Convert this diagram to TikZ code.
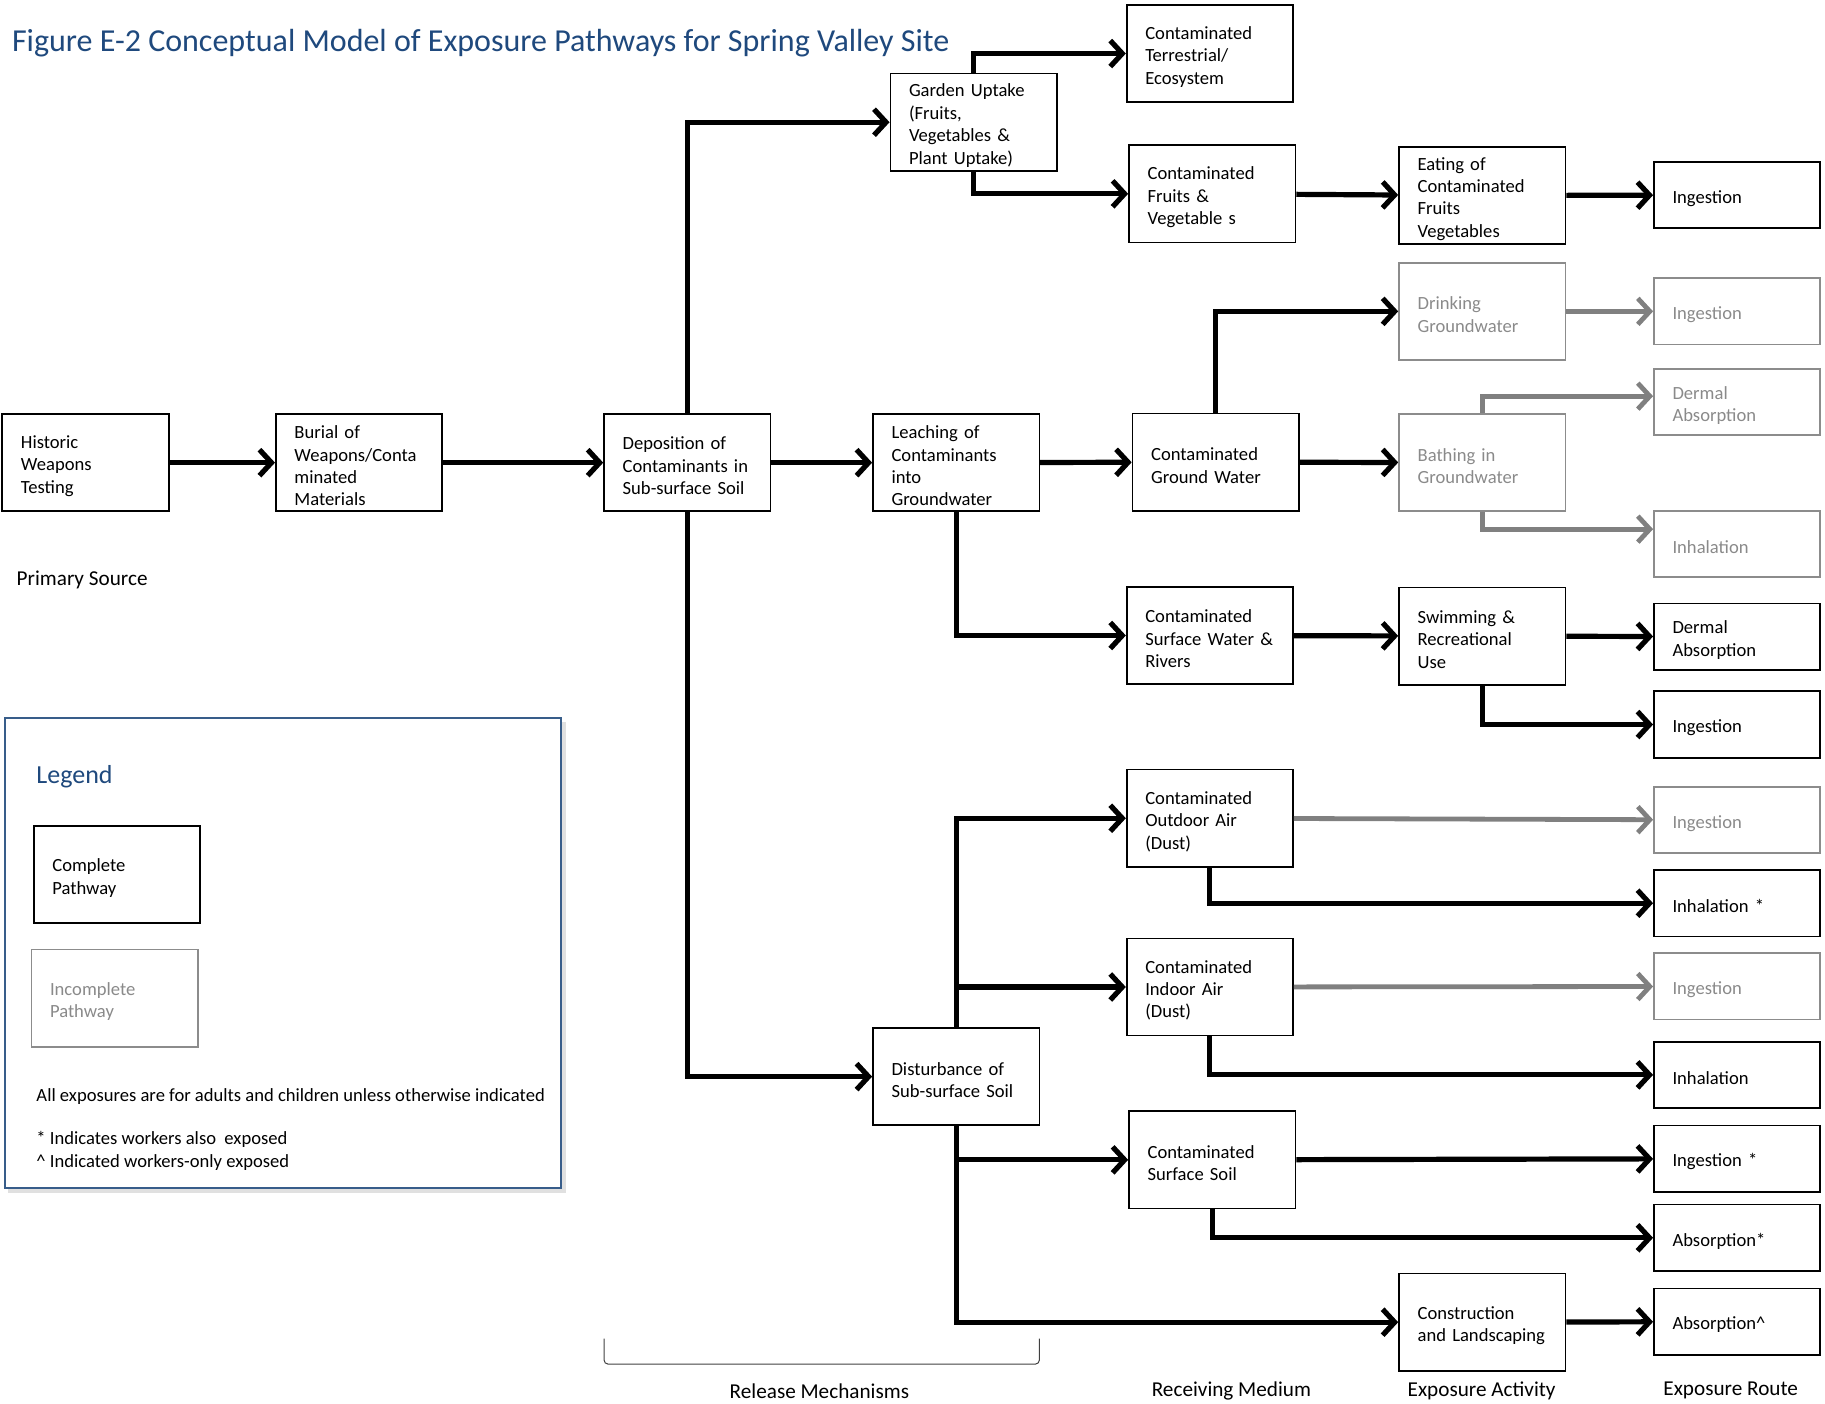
\documentclass[tikz,border=0pt]{standalone}
\usepackage{fontspec}
\setmainfont{Carlito}
\usetikzlibrary{positioning,arrows.meta}

\definecolor{titleblue}{HTML}{1F497D}
\definecolor{legendline}{HTML}{385D8A}
\definecolor{incgrey}{HTML}{8C8C8C}
\definecolor{incgreytext}{HTML}{8A8A8A}
\definecolor{arrgrey}{HTML}{808080}

\newcommand{\boxfont}{\fontsize{9.3}{11.2}\selectfont}
\newcommand{\capfont}{\fontsize{10.6}{12}\selectfont}

\tikzset{
  box/.style={draw, line width=0.85pt, minimum width=83.2pt, minimum height=48.6pt,
    text width=64.6pt, inner xsep=9.3pt, inner ysep=0pt, align=left, font=\boxfont,
    execute at begin node={\rule{0pt}{9.8pt}}},
  greybox/.style={box, draw=incgrey, text=incgreytext},
  route/.style={box, minimum height=33.2pt},
  greyroute/.style={greybox, minimum height=33.2pt},
  arr/.style={line width=2.6pt, -{Straight Barb[length=6pt,width=13pt]}},
  greyarr/.style={arr, draw=arrgrey, line width=2.4pt},
  caption/.style={font=\capfont, inner sep=0pt},
}

\begin{document}
\begin{tikzpicture}[x=0.58195pt, y=-0.58195pt]
  \useasboundingbox (0,0) rectangle (1568,1206);

  % title
  \node[anchor=west, inner sep=0pt, text=titleblue, font=\fontsize{16}{18}\selectfont]
    (title) at (10,37) {Figure E-2 Conceptual Model of Exposure Pathways for Spring Valley Site};

  % primary source and release mechanisms
  \node[box] (hist) at (73.5,397.5) {Historic\\Weapons\\Testing};
  \node[box] (burial) at (308.5,397.5) {Burial of\\Weapons/Conta\\minated\\Materials};
  \node[box] (depo) at (590.5,397.5) {Deposition of\\Contaminants in\\Sub-surface Soil};
  \node[box] (garden) at (836.5,105) {Garden Uptake\\(Fruits,\\Vegetables \&\\Plant Uptake)};
  \node[box] (leach) at (821.5,397.5) {Leaching of\\Contaminants\\into\\Groundwater};
  \node[box] (dist) at (821.5,925) {Disturbance of\\Sub-surface Soil};

  % receiving medium
  \node[box] (terr) at (1039.5,46) {Contaminated\\Terrestrial/\\Ecosystem};
  \node[box] (fruits) at (1041.5,166.5) {Contaminated\\Fruits \&\\Vegetable s};
  \node[box] (cgw) at (1044.5,397) {Contaminated\\Ground Water};
  \node[box] (csw) at (1039.5,546) {Contaminated\\Surface Water \&\\Rivers};
  \node[box] (outair) at (1039.5,703) {Contaminated\\Outdoor Air\\(Dust)};
  \node[box] (inair) at (1039.5,848) {Contaminated\\Indoor Air\\(Dust)};
  \node[box] (soil) at (1041.5,996.5) {Contaminated\\Surface Soil};

  % exposure activity
  \node[box] (eating) at (1273.5,168) {Eating of\\Contaminated\\Fruits\\Vegetables};
  \node[greybox] (drink) at (1273.5,267.5) {Drinking\\Groundwater};
  \node[greybox] (bath) at (1273.5,397.5) {Bathing in\\Groundwater};
  \node[box] (swim) at (1273.5,546.5) {Swimming \&\\Recreational\\Use};
  \node[box] (constr) at (1273.5,1136) {Construction\\and Landscaping};

  % exposure route
  \node[route] (ingA) at (1492.5,167.5) {Ingestion};
  \node[greyroute] (ingGA) at (1492.5,267.5) {Ingestion};
  \node[greyroute] (dermG) at (1492.5,345.5) {Dermal\\Absorption};
  \node[greyroute] (inhG) at (1492.5,467.5) {Inhalation};
  \node[route] (derm) at (1492.5,547) {Dermal\\Absorption};
  \node[route] (ingB) at (1492.5,622.5) {Ingestion};
  \node[greyroute] (ingGB) at (1492.5,704.5) {Ingestion};
  \node[route] (inhA) at (1492.5,776) {Inhalation *};
  \node[greyroute] (ingGC) at (1492.5,847.5) {Ingestion};
  \node[route] (inhB) at (1492.5,923.5) {Inhalation};
  \node[route] (ingC) at (1492.5,995.5) {Ingestion *};
  \node[route] (absA) at (1492.5,1063.5) {Absorption*};
  \node[route] (absB) at (1492.5,1135.5) {Absorption\textasciicircum};

  % connectors
  \draw[arr] (hist) -- (burial);
  \draw[arr] (burial) -- (depo);
  \draw[arr] (depo) -- (leach);
  \draw[arr] (depo.north) |- (garden.west);
  \draw[arr] (depo.south) |- (dist.west);
  \draw[arr] (garden.north) |- (terr.west);
  \draw[arr] (garden.south) |- (fruits.west);
  \draw[arr] (fruits) -- (eating);
  \draw[arr] (eating) -- (ingA);
  \draw[arr] (leach) -- (cgw);
  \draw[arr] (leach.south) |- (csw.west);
  \draw[arr] (cgw.north) |- (drink.west);
  \draw[arr] (cgw) -- (bath);
  \draw[greyarr] (drink) -- (ingGA);
  \draw[greyarr] (bath.north) |- ([yshift=3pt]dermG.west);
  \draw[greyarr] (bath.south) |- ([yshift=7.5pt]inhG.west);
  \draw[arr] (csw) -- (swim);
  \draw[arr] (swim) -- (derm);
  \draw[arr] (swim.south) |- (ingB.west);
  \draw[arr] (dist.north) |- (outair.west);
  \draw[arr] (dist.north) |- (inair.west);
  \draw[arr] (dist.south) |- (soil.west);
  \draw[arr] (dist.south) |- (constr.west);
  \draw[greyarr] (outair) -- (ingGB);
  \draw[arr] (outair.south) |- (inhA.west);
  \draw[greyarr] (inair) -- (ingGC);
  \draw[arr] (inair.south) |- (inhB.west);
  \draw[arr] (soil) -- (ingC);
  \draw[arr] (soil.south) |- (absA.west);
  \draw[arr] (constr) -- (absB);

  % column captions
  \node[caption, anchor=west] (primary) at (14,498) {Primary Source};
  \coordinate (brL) at (519,1150);
  \coordinate (brR) at (893,1150);
  \draw[line width=0.5pt, black!75, rounded corners=2pt] (brL) -- ++(0,22) -| (brR);
  \node[caption] (release) at (704,1195) {Release Mechanisms};
  \node[caption] (receiving) at (1058,1195) {Receiving Medium};
  \node[caption] (activity) at (1273,1195) {Exposure Activity};
  \node[caption] (route) at (1487,1195) {Exposure Route};

  % legend
  \fill[black!12] (7,620) rectangle (486,1025);
  \draw[legendline, line width=1pt, fill=white] (4,617) rectangle (482,1021);
  \node[anchor=west, inner sep=0pt, text=titleblue, font=\fontsize{13}{15}\selectfont]
    (legend) at (31,667) {Legend};
  \node[box] (complete) at (100.5,751.5) {Complete\\Pathway};
  \node[greybox] (incomplete) at (98.5,857.5) {Incomplete\\Pathway};
  \node[anchor=west, inner sep=0pt, font=\boxfont] (allexp) at (31,942)
    {All exposures are for adults and children unless otherwise indicated};
  \node[anchor=west, inner sep=0pt, font=\boxfont] (star) at (31,979)
    {* Indicates workers also \ exposed};
  \node[anchor=west, inner sep=0pt, font=\boxfont] (caret) at (31,999)
    {\textasciicircum\ Indicated workers-only exposed};
\end{tikzpicture}
\end{document}
